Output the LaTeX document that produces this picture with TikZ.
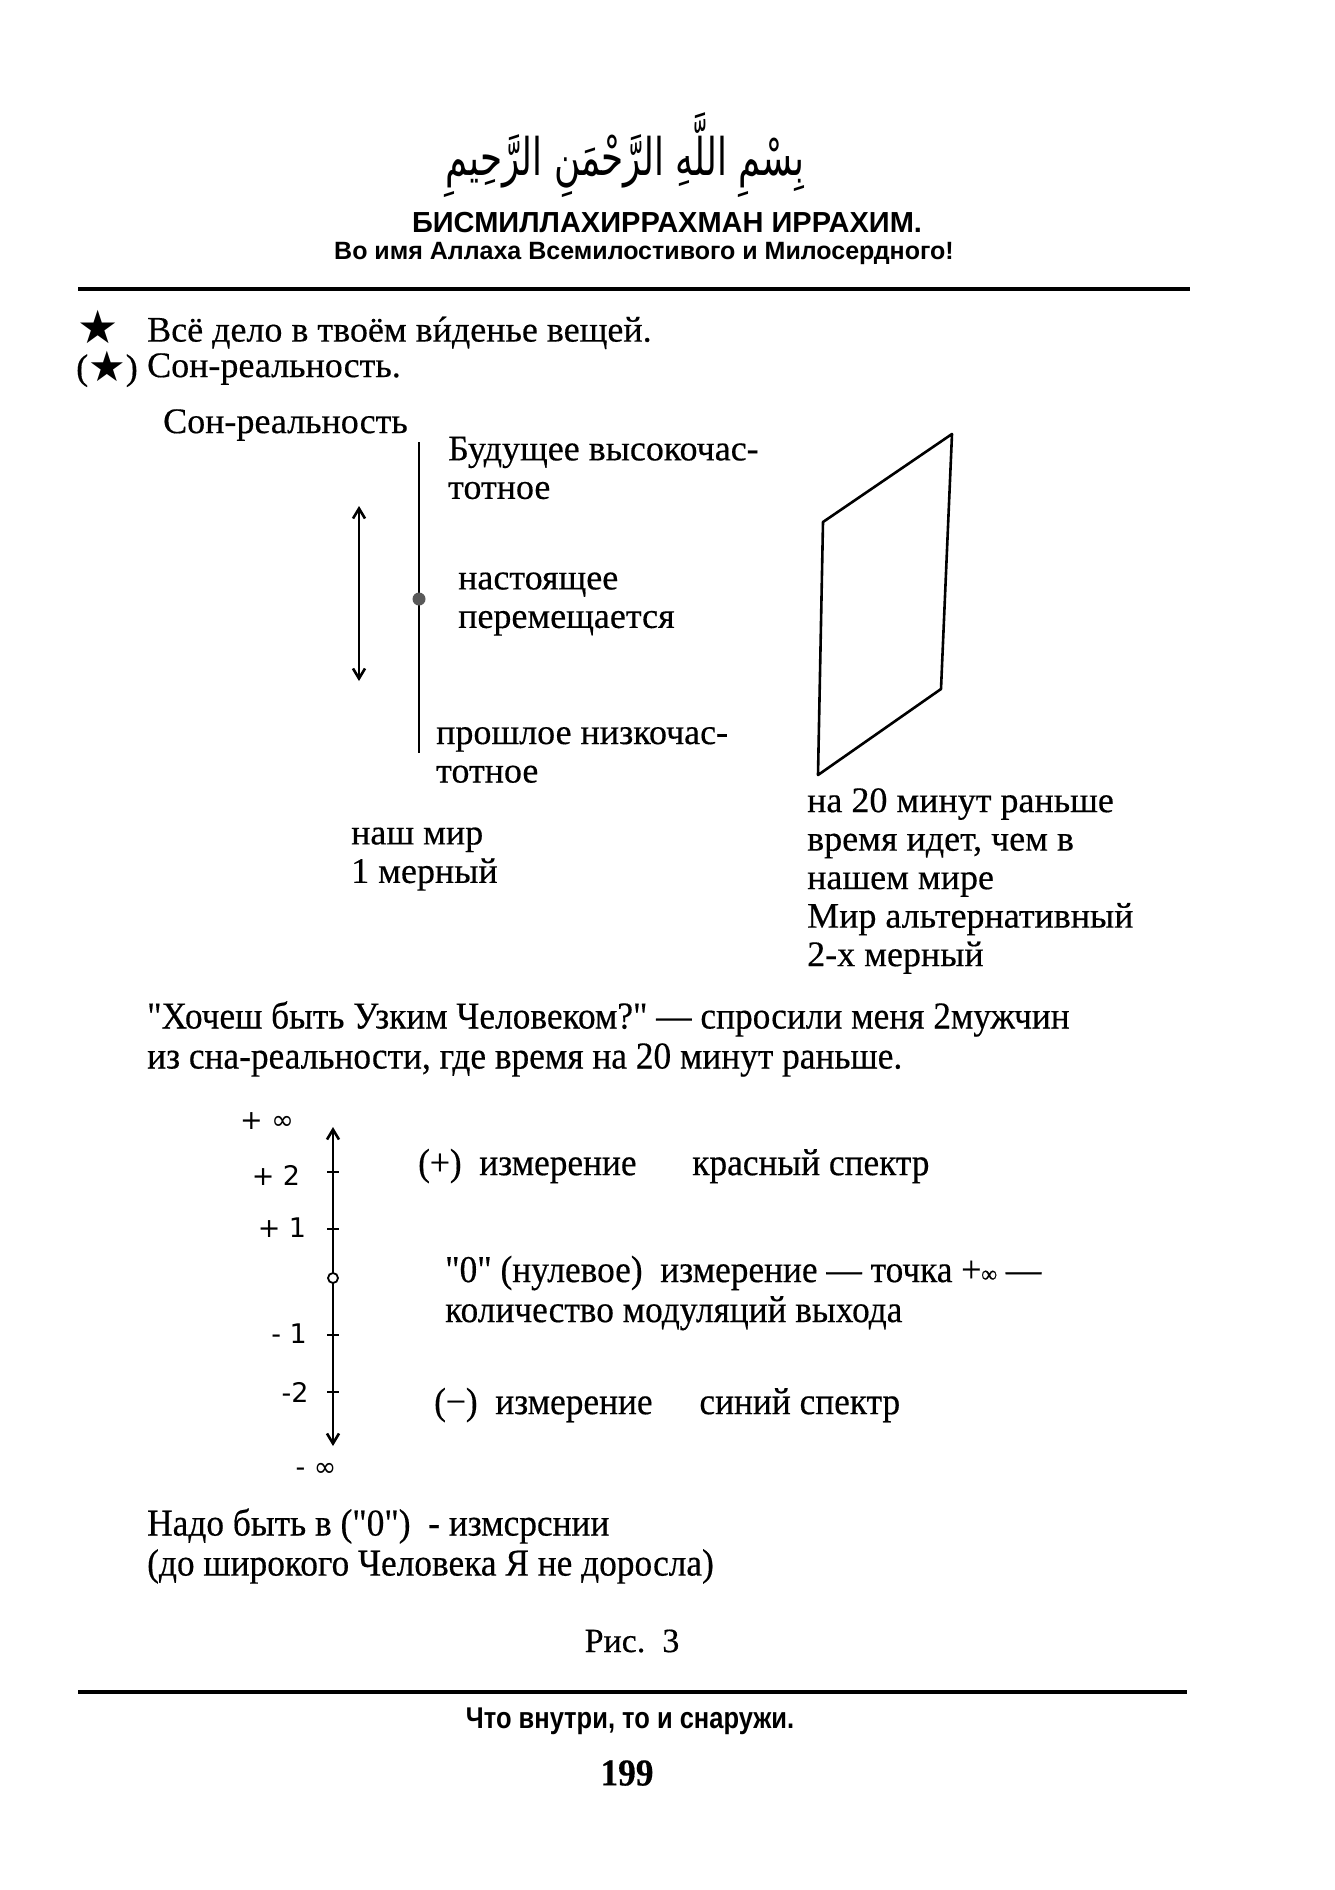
\documentclass[tikz,border=0pt]{standalone}
\usepackage{fontspec}
\usepackage{graphicx}
\setmainfont[FakeBold=0.4]{Liberation Serif}
\newfontfamily\narrowserif[FakeStretch=0.93,FakeBold=0.4]{Liberation Serif}
\newfontfamily\headsans{Liberation Sans}
\newfontfamily\narrowsans[FakeStretch=0.85]{Liberation Sans}
\newfontfamily\symfont{DejaVu Sans}
\newfontfamily\arabicfont[Script=Arabic]{DejaVu Sans}
\TeXXeTstate=1
\newcommand\accentI{\ooalign{и\cr\hidewidth\char"00B4\hidewidth\cr}}
\usetikzlibrary{arrows.meta,positioning,calc}

\begin{document}
\begin{tikzpicture}[x=1pt,y=-1pt,>={Straight Barb[length=10pt,width=12pt]},
 txt/.style={anchor=west,inner sep=0pt,align=left,font=\fontsize{36}{38.5}\selectfont},
 ntxt/.style={anchor=west,inner sep=0pt,align=left,font=\narrowserif\fontsize{38}{40}\selectfont},
 head/.style={inner sep=0pt,font=\headsans\bfseries\fontsize{29}{30}\selectfont},
 hand/.style={inner sep=0pt,font=\symfont\fontsize{27}{27}\selectfont},
 tick/.style={inner sep=0pt,minimum width=12pt,minimum height=2.4pt,fill=black},
 rul/.style={line width=3.2pt},ln/.style={line width=2.6pt}]
\useasboundingbox (0,0) rectangle (1335,1890);
\node[inner sep=0pt] (bsm) at (625,155) {\resizebox{359pt}{!}{\scalebox{1}[1.45]{\arabicfont\beginR بِسْمِ اللَّهِ الرَّحْمَنِ الرَّحِيمِ\endR}}};
\node[head] (ttl) at (667,223) {БИСМИЛЛАХИРРАХМАН ИРРАХИМ.};
\node[head,font=\headsans\bfseries\fontsize{25}{30}\selectfont] (ttl2) at (644,253) {Во имя Аллаха Всемилостивого и Милосердного!};
\coordinate (r1a) at (78,289); \coordinate (r1b) at (1190,289); \draw[rul] (r1a)--(r1b);
\node[inner sep=0pt,text height=33pt,text depth=0pt,font=\symfont\fontsize{46}{46}\selectfont] (st1) at (98,327) {★};
\node[txt] (l1) at (147,333) {Всё дело в твоём в\accentI денье вещей.};
\node[txt] (st2) at (76,369) {(\raisebox{-2pt}{\symfont\fontsize{42}{42}\selectfont★})};
\node[txt] (l2) at (147,369) {Сон-реальность.};
\node[txt] (son) at (163,425) {Сон-реальность};
\coordinate (t1) at (419,442); \coordinate (t2) at (419,753); \draw[ln] (t1)--(t2);
\node[circle,fill=black!65,inner sep=0pt,minimum size=13pt] (nowpt) at (419,599) {};
\coordinate (m1) at (359,506); \coordinate (m2) at (359,681); \draw[ln,<->] (m1)--(m2);
\node[txt] (fut) at (448,468) {Будущее высокочас-\\тотное};
\node[txt] (now) at (458,604) {настоящее\\перемещается};
\node[txt] (past) at (436,755) {прошлое низкочас-\\тотное};
\node[txt] (our) at (351,859) {наш мир\\1 мерный};
\coordinate (p1) at (952,434); \coordinate (p2) at (823,522); \coordinate (p3) at (818,775); \coordinate (p4) at (941,689);
\draw[ln,line join=round] (p1)--(p2)--(p3)--(p4)--cycle;
\node[txt] (alt) at (807,881) {на 20 минут раньше\\время идет, чем в\\нашем мире\\Мир альтернативный\\2-х мерный};
\node[ntxt] (q) at (147,1039) {"Хочеш быть Узким Человеком?" — спросили меня 2мужчин\\из сна-реальности, где время на 20 минут раньше.};
\coordinate (a1) at (333,1127); \coordinate (a2) at (333,1446); \draw[ln,<->] (a1)--(a2);
\foreach \n/\y in {k2/1172,k1/1229,km1/1335,km2/1392} \node[tick] (\n) at (333,\y) {};
\node[circle,draw,fill=white,line width=1.8pt,inner sep=0pt,minimum size=10pt] (zero) at (333,1278) {};
\node[hand] (lpi) at (267,1121) {+ ∞}; \node[hand] (lp2) at (276,1175) {+ 2}; \node[hand] (lp1) at (282,1228) {+ 1};
\node[hand] (lm1) at (289,1334) {- 1}; \node[hand] (lm2) at (295,1392) {-2}; \node[hand] (lmi) at (316,1470) {- ∞};
\node[ntxt] (plus) at (418,1166) {(+)\ \ измерение\quad\ \ красный спектр};
\node[ntxt] (zer) at (445,1293) {"0" (нулевое)\ \ измерение — точка +{\fontsize{24}{24}\selectfont∞} —\\количество модуляций выхода};
\node[ntxt] (minus) at (434,1405) {(−)\ \ измерение\quad\ синий спектр};
\node[ntxt] (nado) at (147,1546) {Надо быть в ("0")\ \ - измсрснии\\(до широкого Человека Я не доросла)};
\node[inner sep=0pt,font=\fontsize{34}{34}\selectfont] (fig) at (632,1641) {Рис.\ \ 3};
\coordinate (r2a) at (78,1692); \coordinate (r2b) at (1187,1692); \draw[rul] (r2a)--(r2b);
\node[inner sep=0pt,font=\narrowsans\bfseries\fontsize{30}{30}\selectfont] (foot) at (630,1721) {Что внутри, то и снаружи.};
\node[inner sep=0pt,font=\narrowserif\bfseries\fontsize{38}{38}\selectfont] (pg) at (627,1773) {199};
\end{tikzpicture}
\end{document}
